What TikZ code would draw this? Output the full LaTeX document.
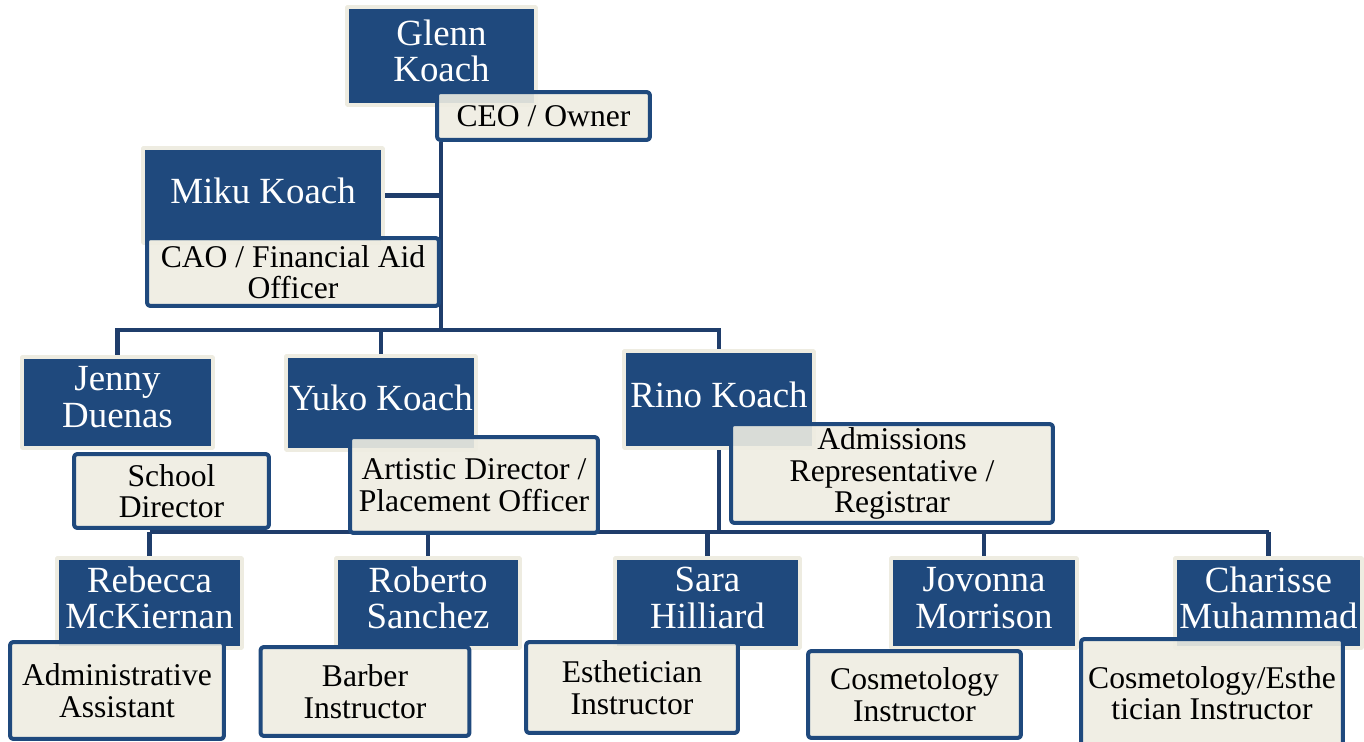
\documentclass[tikz,border=0pt]{standalone}
\usepackage{fontspec}
\setmainfont{Liberation Serif}
\usetikzlibrary{backgrounds}
\definecolor{navy}{HTML}{1F497D}
\definecolor{cream}{HTML}{EEECE1}
\definecolor{linenavy}{HTML}{1F3D6B}
\begin{document}
\begin{tikzpicture}[x=0.02cm, y=-0.02cm, line join=round, line cap=round,
	boxsize/.style 2 args={minimum width=#1*0.02cm-2.5pt, minimum height=#2*0.02cm-2.5pt},
	person/.style={draw=cream, fill=navy, line width=2.5pt, inner sep=0pt, text=white, align=center, font=\fontsize{21}{21}\selectfont,
		execute at end node={\rule[-6pt]{0pt}{0pt}}},
	role/.style={draw=navy, fill=cream, fill opacity=0.9, text opacity=1, line width=2.3pt, rounded corners=1.5pt, inner sep=0pt, text=black, align=center, font=\fontsize{18}{18}\selectfont},
	link/.style={draw=linenavy, line width=2.6pt}]
	\useasboundingbox (0,0) rectangle (1364,742);
	\clip (0,0) rectangle (1364,742);
	
	% top
	\node[person, boxsize={193}{102}] (glenn) at (441.5,56) {Glenn\\Koach};
	\node[role, boxsize={217}{52}] (ceo) at (543.5,116) {CEO / Owner};
	\node[person, boxsize={244}{99}] (miku) at (263,195.5) {Miku Koach};
	\node[role, boxsize={296}{72}] (cao) at (293,272) {CAO / Financial Aid\\Officer};
	
	% middle
	\node[person, boxsize={195}{95}] (jenny) at (117.5,402.5) {Jenny\\Duenas};
	\node[role, boxsize={199}{78}] (school) at (171.5,491) {School\\Director};
	\node[person, boxsize={194}{98}] (yuko) at (381,403) {Yuko Koach};
	\node[role, boxsize={252}{100}] (artistic) at (474,485) {Artistic Director /\\Placement Officer};
	\node[person, boxsize={194}{101}] (rino) at (719,399.5) {Rino Koach};
	\node[role, boxsize={326}{103}] (admissions) at (892,473.5) {Admissions\\Representative /\\Registrar};
	
	% bottom
	\node[person, boxsize={189}{94}] (rebecca) at (149.5,603) {Rebecca\\McKiernan};
	\node[role, boxsize={218}{101}] (admin) at (117,690.5) {Administrative\\Assistant};
	\node[person, boxsize={188}{94}] (roberto) at (428,603) {Roberto\\Sanchez};
	\node[role, boxsize={213}{93}] (barber) at (365,691.5) {Barber\\Instructor};
	\node[person, boxsize={189}{94}] (sara) at (707.5,603) {Sara\\Hilliard};
	\node[role, boxsize={216}{95}] (esthetician) at (632,687.5) {Esthetician\\Instructor};
	\node[person, boxsize={190}{94}] (jovonna) at (984,603) {Jovonna\\Morrison};
	\node[role, boxsize={217}{91}] (cosmetology) at (914.5,694.5) {Cosmetology\\Instructor};
	\node[person, boxsize={191}{94}] (charisse) at (1268.5,603) {Charisse\\Muhammad};
	\node[role, boxsize={266}{112}] (cosmesth) at (1212,693) {Cosmetology/Esthe\\tician Instructor};
	
	\begin{scope}[on background layer]
		\coordinate (hub) at (441,330);
		\coordinate (low) at (718,532);
		\draw[link] (ceo.south -| hub) -- (hub);
		\draw[link] (miku.east) -- (miku.east -| hub);
		\draw[link] (hub) -| (jenny.north);
		\draw[link] (hub) -| (yuko.north);
		\draw[link] (hub) -| (rino.north);
		\draw[link] (rino.south) -- (rino.south |- low);
		\draw[link] (rebecca.north |- low) -- (charisse.north |- low);
		\foreach \p in {rebecca,roberto,sara,jovonna,charisse}
		\draw[link] (\p.north |- low) -- (\p.north);
	\end{scope}
\end{tikzpicture}
\end{document}
